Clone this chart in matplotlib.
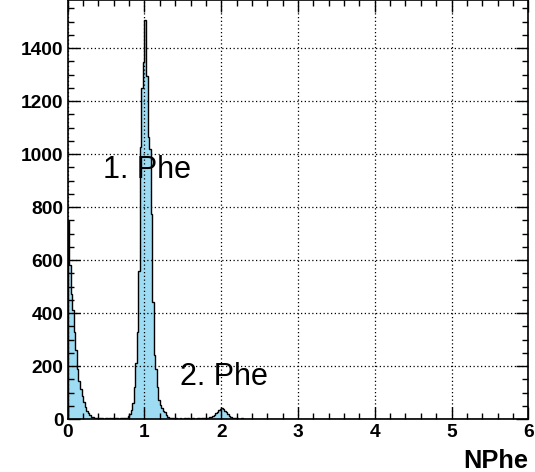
import numpy as np
import matplotlib
matplotlib.use("Agg")
import matplotlib.pyplot as plt
from matplotlib.ticker import MultipleLocator

# Histogram of photo-electron counts: 300 bins on [0, 6]
x_min, x_max, n_bins = 0.0, 6.0, 300

pedestal = [748, 580, 470, 410, 330, 260, 190, 145, 115, 85,
            65, 45, 32, 22, 14, 9, 6, 4, 3, 2]
valley_1 = [2, 3, 2, 1, 2, 2, 1, 2, 1, 2, 1, 2, 2, 1, 2, 3, 2, 3,
            5, 10, 20, 35]
peak_1 = [60, 120, 210, 330, 560, 1025, 1251, 1346, 1506, 1296, 1066,
          1020, 775, 440, 240, 190, 120, 70, 52, 42, 32, 25, 14, 8, 4, 2]
valley_2 = [2, 1, 2, 1, 1, 2, 1, 1, 2, 1, 2, 1, 1, 2, 1, 1, 2, 2, 1, 2,
            2, 3]
peak_2 = [3, 4, 6, 8, 11, 15, 22, 28, 33, 38, 40, 37, 30, 26, 20, 12, 7,
          4, 3, 2]
tail = [2, 1, 1, 2, 1, 1, 0, 1, 1, 0, 1, 0, 1, 1, 0, 0, 1, 0, 0, 1,
        0, 0, 0, 1, 0, 0, 0, 0, 1, 0]

counts = np.array(pedestal + valley_1 + peak_1 + valley_2 + peak_2 + tail,
                  dtype=float)
counts = np.concatenate([counts, np.zeros(n_bins - counts.size)])
edges = np.linspace(x_min, x_max, n_bins + 1)

x_ticks = [0, 1, 2, 3, 4, 5, 6]
y_ticks = [0, 200, 400, 600, 800, 1000, 1200, 1400]
y_top = 1.05 * counts.max()

labels = [("1. Phe", 0.46, 910), ("2. Phe", 1.463, 128)]

plt.rcParams["font.family"] = ["Liberation Sans", "DejaVu Sans"]

W, H = 535, 472
fig = plt.figure(figsize=(W / 100, H / 100), dpi=100)
ax = fig.add_axes([67.7 / W, 1 - 419 / H, (528.3 - 67.7) / W, 419 / H])

ax.stairs(counts, edges, fill=True, color="#9ddcf2", zorder=1)
ax.stairs(counts, edges, color="black", linewidth=1.0, zorder=3)

ax.set_xlim(x_min, x_max)
ax.set_ylim(0, y_top)
ax.xaxis.set_minor_locator(MultipleLocator(0.2))
ax.yaxis.set_minor_locator(MultipleLocator(50))

# tick labels drawn in bold Helvetica-like type
ax.set_xticks(x_ticks, [str(v) for v in x_ticks],
              fontsize=13.8, fontweight="bold")
ax.set_yticks(y_ticks, [str(v) for v in y_ticks],
              fontsize=13.8, fontweight="bold")

ax.grid(True, which="major", color="black", linestyle=(0, (1, 2)),
        linewidth=0.9, zorder=2)
ax.set_axisbelow(False)

ax.tick_params(which="both", direction="in", top=True, right=True,
               width=1.0, color="black")
ax.tick_params(which="major", length=8.5)
ax.tick_params(which="minor", length=4.3)
ax.tick_params(axis="y", which="major", pad=3.0)
ax.tick_params(axis="x", which="major", pad=3.5)

for s in ax.spines.values():
    s.set_linewidth(1.2)

fig.text(528.3 / W, 1 - 468 / H, "NPhe", fontsize=18.3, fontweight="bold",
         ha="right", va="baseline")

for text, tx, ty in labels:
    ax.text(tx, ty, text, fontsize=22, ha="left", va="baseline", zorder=4)

fig.savefig("out.png", dpi=100, facecolor="white")
